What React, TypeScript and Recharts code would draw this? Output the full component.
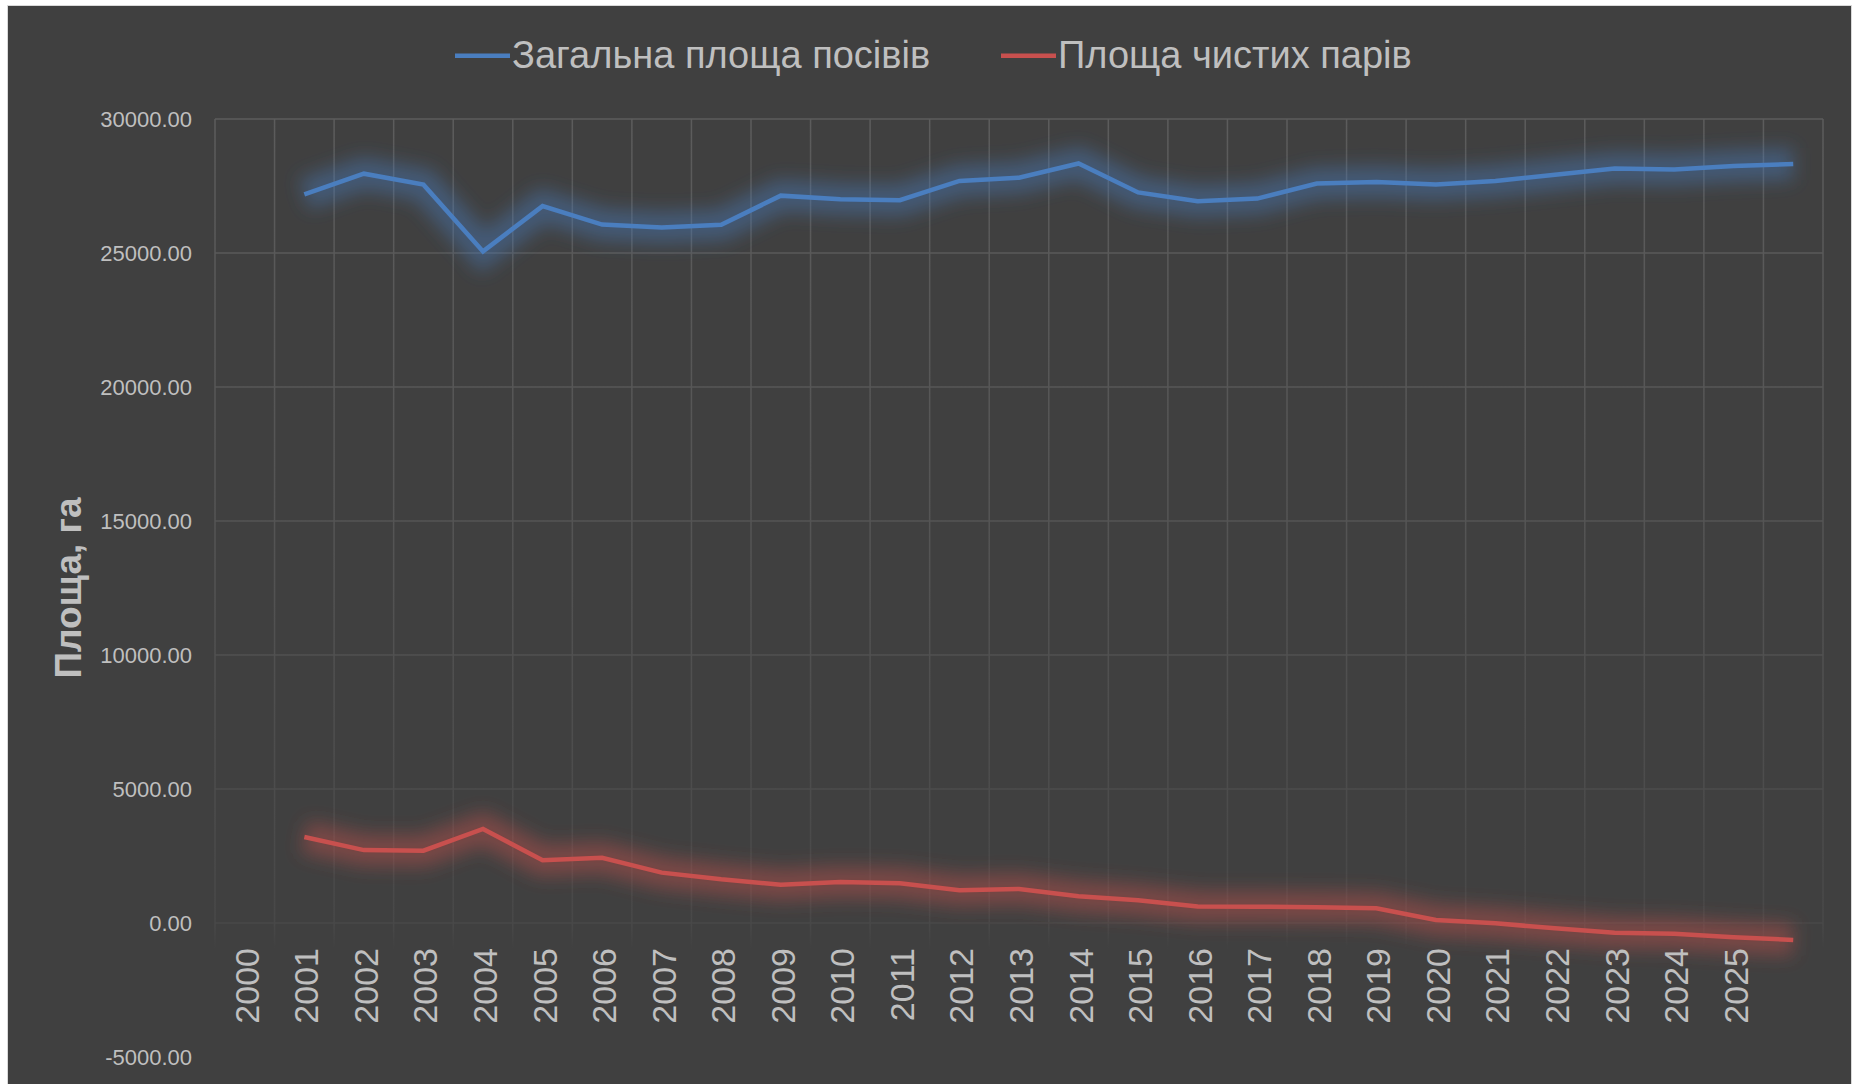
import React from 'react';
import { LineChart, Line, XAxis, YAxis, CartesianGrid } from 'recharts';

// ---- data ----
const categoryLabels = [
  '2000', '2001', '2002', '2003', '2004', '2005', '2006', '2007', '2008', '2009',
  '2010', '2011', '2012', '2013', '2014', '2015', '2016', '2017', '2018', '2019',
  '2020', '2021', '2022', '2023', '2024', '2025', '',
];
const totalSown: (number | null)[] = [
  null, 27190, 27960, 27550, 25060, 26750, 26060, 25950, 26050, 27140,
  27010, 26970, 27690, 27810, 28340, 27260, 26930, 27030, 27590, 27650,
  27560, 27690, 27920, 28150, 28120, 28250, 28320,
];
const cleanFallow: (number | null)[] = [
  null, 3210, 2720, 2700, 3510, 2340, 2430, 1880, 1630, 1430,
  1530, 1480, 1220, 1270, 1000, 850, 620, 610, 590, 550,
  110, -10, -200, -360, -400, -530, -630,
];
const seriesNames = ['Загальна площа посівів', 'Площа чистих парів'];
const seriesColors = ['#4A7EBF', '#C8504E'];
const yTicks = [-5000, 0, 5000, 10000, 15000, 20000, 25000, 30000];
const yTitle = 'Площа, га';

const data = categoryLabels.map((label, i) => ({
  idx: i,
  label,
  total: totalSown[i],
  fallow: cleanFallow[i],
}));

// ---- layout ----
const W = 1843;
const H = 1078;
const X_AXIS_H = 27;
const MARGIN = { top: 113, right: 28, bottom: 0, left: 0 };
const Y_AXIS_W = 207;
const Y_MIN = -5000;
const Y_MAX = 30000;
const PLOT_H = H - MARGIN.top - MARGIN.bottom - X_AXIS_H;
const ZERO_Y = MARGIN.top + (PLOT_H * (Y_MAX - 0)) / (Y_MAX - Y_MIN);
const TEXT = '#BFBFBF';
const FONT = '"Liberation Sans", Arial, sans-serif';

const XTick = (props: any) => {
  const { x, payload } = props;
  const y0 = ZERO_Y + 25;
  const i = typeof payload?.value === 'number' ? payload.value : payload?.index;
  const txt = categoryLabels[i] ?? '';
  return (
    <text
      x={x + 2}
      y={y0}
      transform={`rotate(-90, ${x + 2}, ${y0})`}
      textAnchor="end"
      dominantBaseline="central"
      fill={TEXT}
      fontFamily={FONT}
      fontSize={34}
    >
      {txt}
    </text>
  );
};

const YTitle = (props: any) => {
  const vb = props.viewBox || { x: 0, y: MARGIN.top, width: Y_AXIS_W, height: PLOT_H };
  const cx = vb.x + 60;
  const cy = vb.y + vb.height / 2;
  return (
    <text
      x={cx}
      y={cy}
      transform={`rotate(-90, ${cx}, ${cy})`}
      textAnchor="middle"
      dominantBaseline="central"
      fill={TEXT}
      fontFamily={FONT}
      fontWeight="bold"
      fontSize={37}
    >
      {yTitle}
    </text>
  );
};

export default function App() {
  const legendItems = [
    { name: seriesNames[0], color: seriesColors[0], x: 447 },
    { name: seriesNames[1], color: seriesColors[1], x: 993 },
  ];
  return (
    <div
      style={{
        position: 'absolute',
        left: 7,
        top: 5,
        width: W,
        height: H + 1,
        background: '#404040',
        borderTop: '1px solid #D9D9D9',
        borderLeft: '1px solid #D9D9D9',
        borderRight: '1px solid #D9D9D9',
        overflow: 'hidden',
      }}
    >
      <LineChart width={W} height={H} data={data} margin={MARGIN}>
        <defs>
          <linearGradient id="gridGrad" gradientUnits="userSpaceOnUse" x1="0" y1={MARGIN.top} x2="0" y2={MARGIN.top + PLOT_H}>
            <stop offset="0" stopColor="#5C5C5C" />
            <stop offset="0.45" stopColor="#545454" />
            <stop offset="0.86" stopColor="#484848" />
            <stop offset="0.885" stopColor="#404040" />
            <stop offset="1" stopColor="#404040" />
          </linearGradient>
          <filter id="glow" filterUnits="userSpaceOnUse" x="0" y="0" width={W} height={H}>
            <feGaussianBlur stdDeviation="9" />
          </filter>
        </defs>
        <CartesianGrid
          stroke="url(#gridGrad)"
          strokeWidth={1.5}
          verticalCoordinatesGenerator={({ offset }: any) =>
            Array.from({ length: categoryLabels.length + 1 }, (_, i) => offset.left + (i * offset.width) / categoryLabels.length)
          }
        />
        <XAxis
          dataKey="idx"
          type="category"
          scale="band"
          height={X_AXIS_H}
          axisLine={false}
          tickLine={false}
          interval={0}
          tick={<XTick />}
        />
        <YAxis
          width={Y_AXIS_W}
          domain={[Y_MIN, Y_MAX]}
          ticks={yTicks}
          allowDataOverflow
          axisLine={false}
          tickLine={false}
          tickSize={0}
          tickMargin={23}
          tickFormatter={(v: number) => v.toFixed(2)}
          tick={{ fill: TEXT, fontFamily: FONT, fontSize: 22 }}
          label={<YTitle />}
        />
        <Line dataKey="total" stroke={seriesColors[0]} strokeOpacity={0.42} strokeWidth={32} dot={false} activeDot={false} isAnimationActive={false} filter="url(#glow)" legendType="none" />
        <Line dataKey="fallow" stroke={seriesColors[1]} strokeOpacity={0.42} strokeWidth={32} dot={false} activeDot={false} isAnimationActive={false} filter="url(#glow)" legendType="none" />
        <Line dataKey="total" name={seriesNames[0]} stroke={seriesColors[0]} strokeWidth={4.5} dot={false} activeDot={false} isAnimationActive={false} />
        <Line dataKey="fallow" name={seriesNames[1]} stroke={seriesColors[1]} strokeWidth={4.5} dot={false} activeDot={false} isAnimationActive={false} />
      </LineChart>
      <svg width={W} height={100} style={{ position: 'absolute', left: 0, top: 0, pointerEvents: 'none' }}>
        {legendItems.map((it) => (
          <g key={it.name}>
            <line x1={it.x} x2={it.x + 55} y1={49.7} y2={49.7} stroke={it.color} strokeWidth={4.5} />
            <text x={it.x + 57} y={62.3} fill={TEXT} fontFamily={FONT} fontSize={38}>
              {it.name}
            </text>
          </g>
        ))}
      </svg>
    </div>
  );
}
